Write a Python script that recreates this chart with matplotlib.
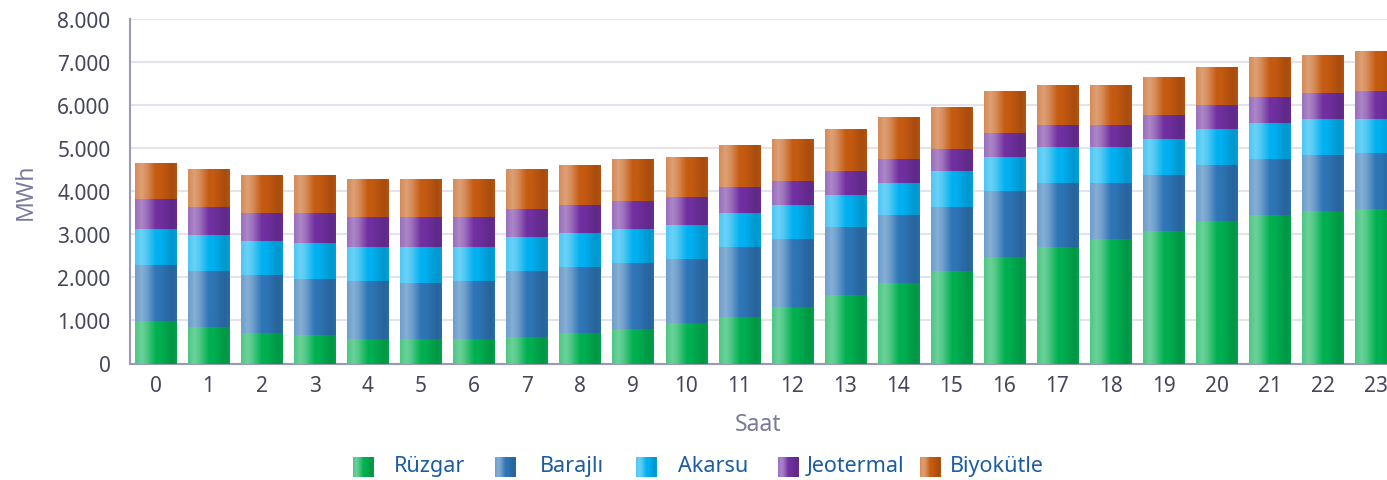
import numpy as np
import matplotlib
matplotlib.use('Agg')
import matplotlib.pyplot as plt
from matplotlib.colors import to_rgb

plt.rcParams['font.family'] = ['Noto Sans', 'DejaVu Sans']

# saatlik üretim verileri (MWh)
saat = list(range(24))
ruzgar = [985, 845, 705, 660, 565, 565, 565, 610, 705, 800, 940, 1075,
          1310, 1590, 1865, 2145, 2470, 2705, 2890, 3075, 3310, 3445, 3540, 3585]
barajli = [1300, 1300, 1350, 1300, 1350, 1300, 1350, 1535, 1535, 1535, 1490, 1625,
           1580, 1580, 1580, 1490, 1535, 1490, 1300, 1300, 1300, 1300, 1300, 1300]
akarsu = [835, 835, 790, 835, 790, 835, 790, 790, 790, 790, 790, 790,
          790, 745, 745, 835, 790, 835, 835, 835, 835, 835, 835, 790]
jeotermal = [700, 650, 650, 700, 700, 700, 700, 650, 650, 650, 650, 605,
             560, 560, 560, 510, 560, 510, 510, 560, 560, 605, 605, 650]
biyokutle = [835, 885, 885, 885, 885, 885, 885, 930, 930, 975, 930, 975,
             975, 975, 975, 975, 975, 930, 930, 885, 885, 930, 885, 930]

seriler = ['Rüzgar', 'Barajlı', 'Akarsu', 'Jeotermal', 'Biyokütle']
degerler = [ruzgar, barajli, akarsu, jeotermal, biyokutle]
renkler = ['#00b050', '#2e75b6', '#00b0f0', '#7030a0', '#c55a11']
y_ticks = [0, 1000, 2000, 3000, 4000, 5000, 6000, 7000, 8000]
y_labels = ['0', '1.000', '2.000', '3.000', '4.000', '5.000', '6.000', '7.000', '8.000']


def gradient(color, n=64):
    # açık şerit solda, ortada tam renk, sağ kenar biraz koyu
    c = np.array(to_rgb(color))
    t = np.linspace(0, 1, n)
    light = np.interp(t, [0, 0.15, 0.27, 0.5, 1], [0.3, 0.42, 0.32, 0.0, 0.0])
    dark = np.interp(t, [0, 0.6, 0.9, 1], [0.0, 0.0, 0.15, 0.08])
    out = c[None, :] * (1 - light[:, None]) + light[:, None]
    out = out * (1 - dark[:, None])
    return out[None, :, :]


W, H = 1387, 481
fig = plt.figure(figsize=(W / 100, H / 100), dpi=100)
ax = fig.add_axes([130 / W, 1 - 364.5 / H, 1 - 130 / W, (364.5 - 20) / H])

bottom = np.zeros(len(saat))
for name, vals, col in zip(seriler, degerler, renkler):
    bars = ax.bar(saat, vals, bottom=bottom, width=0.775, color=col,
                  linewidth=0, zorder=2)
    g = gradient(col)
    for r in bars:
        x0, y0 = r.get_x(), r.get_y()
        im = ax.imshow(g, extent=[x0, x0 + r.get_width(), y0, y0 + r.get_height()],
                       aspect='auto', interpolation='bilinear', zorder=3)
        im.set_clip_path(r)
    bottom += np.array(vals)

ax.set_xlim(-0.48, 23.21)
ax.set_ylim(0, 8000)
ax.set_xticks(saat)
ax.set_yticks(y_ticks)
ax.set_yticklabels(y_labels)
ax.grid(axis='y', color='#e3e3ec', linewidth=1.5, zorder=0)
ax.set_axisbelow(True)
for s in ['top', 'right']:
    ax.spines[s].set_visible(False)
for s in ['left', 'bottom']:
    ax.spines[s].set_color('#9a9ab8')
    ax.spines[s].set_linewidth(1.5)
ax.tick_params(axis='y', length=0, pad=14, labelsize=15, labelcolor='#45455e')
ax.tick_params(axis='x', length=0, pad=8, labelsize=15, labelcolor='#45455e')
ax.set_xlabel('Saat', fontsize=16.5, color='#7a7a9c', labelpad=12)
ax.set_ylabel('MWh', fontsize=16.5, color='#7a7a9c', labelpad=14)

# lejant: sabit aralıklı kutular, metin kutunun sağında ortalı
for i, (name, col) in enumerate(zip(seriler, renkler)):
    x0 = 353 + i * 141.7
    lax = fig.add_axes([x0 / W, 1 - 478 / H, 21 / W, 20.5 / H])
    lax.imshow(gradient(col), aspect='auto', interpolation='bilinear')
    lax.axis('off')
    fig.text((x0 + 77) / W, 1 - 467 / H, name, ha='center', va='center',
             fontsize=15.5, color='#1b5ca3')

fig.savefig('out.png', dpi=100)
